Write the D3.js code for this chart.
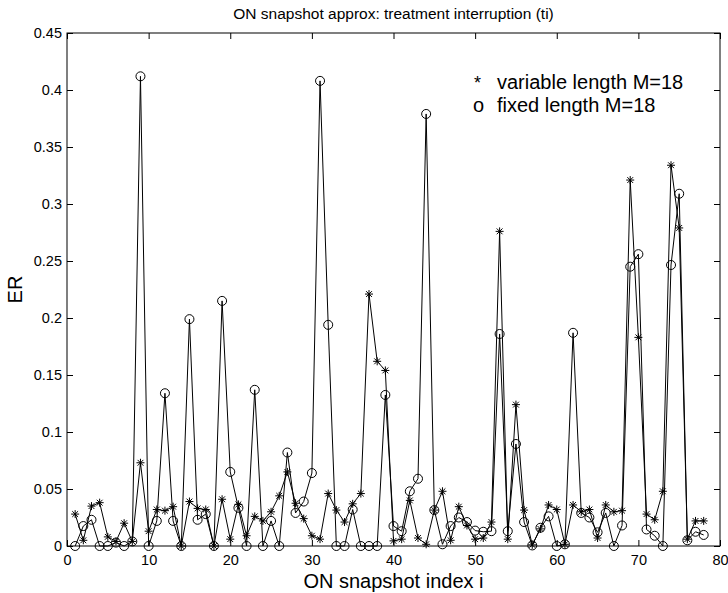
<!DOCTYPE html>
<html>
<head>
<meta charset="utf-8">
<script src="https://d3js.org/d3.v7.min.js"></script>
<style>
    body { margin: 0; background: #fff; }
    svg { display: block; font-family: "Liberation Sans", Arial, Helvetica, sans-serif; }
    .axis path { display: none; }
    .axis line { stroke: #000; stroke-width: 1px; }
    .axis text { font-size: 14.5px; fill: #000; }
    .series { fill: none; stroke: #000; stroke-width: 1px; stroke-linejoin: round; }
</style>
</head>
<body>
<div id="chart"></div>
<script>
// snapshot index i = 1..78
var snapIndex = d3.range(1, 79);

// * variable length M=18
var variableER = [
    0.028, 0.005, 0.035, 0.038, 0.008, 0.004, 0.020, 0.004, 0.073, 0.013,
    0.032, 0.031, 0.0345, 0.000, 0.039, 0.033, 0.032, 0.000, 0.041, 0.006,
    0.0365, 0.009, 0.026, 0.022, 0.030, 0.044, 0.065, 0.0375, 0.024, 0.009,
    0.006, 0.046, 0.0315, 0.021, 0.037, 0.046, 0.221, 0.162, 0.154, 0.0045,
    0.006, 0.040, 0.007, 0.0015, 0.0315, 0.048, 0.005, 0.0345, 0.018, 0.006,
    0.007, 0.021, 0.276, 0.006, 0.124, 0.0315, 0.001, 0.015, 0.036, 0.032,
    0.0015, 0.036, 0.030, 0.032, 0.007, 0.036, 0.030, 0.031, 0.321, 0.183,
    0.028, 0.023, 0.048, 0.334, 0.279, 0.006, 0.022, 0.022
];

// o fixed length M=18
var fixedER = [
    0.000, 0.0175, 0.023, 0.000, 0.000, 0.003, 0.000, 0.004, 0.412, 0.000,
    0.022, 0.134, 0.022, 0.000, 0.199, 0.023, 0.028, 0.000, 0.215, 0.065,
    0.0335, 0.000, 0.137, 0.000, 0.022, 0.000, 0.082, 0.029, 0.039, 0.064,
    0.408, 0.194, 0.000, 0.000, 0.032, 0.000, 0.000, 0.000, 0.1325, 0.0175,
    0.013, 0.048, 0.059, 0.379, 0.0315, 0.0015, 0.0175, 0.025, 0.021, 0.0135,
    0.0125, 0.013, 0.186, 0.013, 0.0895, 0.021, 0.0005, 0.016, 0.026, 0.000,
    0.0015, 0.187, 0.029, 0.025, 0.012, 0.029, 0.000, 0.018, 0.245, 0.256,
    0.0145, 0.009, 0.000, 0.2465, 0.309, 0.005, 0.0125, 0.0097
];

var xTicks = [0, 10, 20, 30, 40, 50, 60, 70, 80];
var yTicks = [0, 0.05, 0.1, 0.15, 0.2, 0.25, 0.3, 0.35, 0.4, 0.45];
var legendLabels = ["variable length M=18", "fixed length M=18"];

var W = 728, H = 593;
var margin = { top: 33, right: 8, bottom: 47, left: 67 },
    width = W - margin.left - margin.right,
    height = H - margin.top - margin.bottom;

var svg = d3.select("#chart").append("svg")
    .attr("width", W)
    .attr("height", H);

svg.append("rect").attr("width", W).attr("height", H).attr("fill", "#fff");

var g = svg.append("g")
    .attr("transform", "translate(" + margin.left + "," + margin.top + ")");

var x = d3.scaleLinear().domain([0, 80]).range([0, width]);
var y = d3.scaleLinear().domain([0, 0.45]).range([height, 0]);

var fmt = function (d) { return String(+d.toFixed(2)); };

// ticks point inward, matlab style, on all four sides
g.append("g").attr("class", "axis")
    .attr("transform", "translate(0," + height + ")")
    .call(d3.axisBottom(x).tickValues(xTicks).tickSize(-6).tickPadding(9).tickFormat(fmt));
g.append("g").attr("class", "axis")
    .call(d3.axisTop(x).tickValues(xTicks).tickSize(-6).tickFormat(""));
g.append("g").attr("class", "axis")
    .call(d3.axisLeft(y).tickValues(yTicks).tickSize(-6).tickPadding(5).tickFormat(fmt));
g.append("g").attr("class", "axis")
    .attr("transform", "translate(" + width + ",0)")
    .call(d3.axisRight(y).tickValues(yTicks).tickSize(-6).tickFormat(""));

g.append("rect")
    .attr("width", width).attr("height", height)
    .attr("fill", "none").attr("stroke", "#000").attr("stroke-width", 1);

var line = d3.line()
    .x(function (d) { return x(d[0]); })
    .y(function (d) { return y(d[1]); });

var varPts = snapIndex.map(function (i, k) { return [i, variableER[k]]; });
var fixPts = snapIndex.map(function (i, k) { return [i, fixedER[k]]; });

g.append("path").attr("class", "series").attr("d", line(varPts));
g.append("path").attr("class", "series").attr("d", line(fixPts));

// asterisk markers
var star = "M-4,0H4M0,-4V4M-2.9,-2.9L2.9,2.9M-2.9,2.9L2.9,-2.9";
g.append("g").selectAll("path")
    .data(varPts)
    .enter().append("path")
    .attr("transform", function (d) { return "translate(" + x(d[0]) + "," + y(d[1]) + ")"; })
    .attr("d", star)
    .attr("stroke", "#000")
    .attr("stroke-width", 1)
    .attr("fill", "none");

// circle markers
g.append("g").selectAll("circle")
    .data(fixPts)
    .enter().append("circle")
    .attr("cx", function (d) { return x(d[0]); })
    .attr("cy", function (d) { return y(d[1]); })
    .attr("r", 4.5)
    .attr("fill", "none")
    .attr("stroke", "#000")
    .attr("stroke-width", 1);

// legend, plain text like the original
var legend = g.append("g").attr("transform", "translate(" + (473 - margin.left) + ",0)");
legend.append("text").attr("x", 1).attr("y", 89 - margin.top)
    .style("font-size", "18px").text("*");
legend.append("text").attr("x", 0).attr("y", 112 - margin.top)
    .style("font-size", "20px").text("o");
legend.append("text").attr("x", 24).attr("y", 89 - margin.top)
    .style("font-size", "20px").text(legendLabels[0]);
legend.append("text").attr("x", 24).attr("y", 112 - margin.top)
    .style("font-size", "20px").text(legendLabels[1]);

// title and axis labels
svg.append("text")
    .attr("x", margin.left + width / 2).attr("y", 19)
    .attr("text-anchor", "middle")
    .style("font-size", "15.5px")
    .text("ON snapshot approx: treatment interruption (ti)");

svg.append("text")
    .attr("x", margin.left + width / 2).attr("y", 588)
    .attr("text-anchor", "middle")
    .style("font-size", "20px")
    .text("ON snapshot index i");

svg.append("text")
    .attr("transform", "translate(22," + (margin.top + height / 2) + ") rotate(-90)")
    .attr("text-anchor", "middle")
    .style("font-size", "20px")
    .text("ER");
</script>
</body>
</html>
